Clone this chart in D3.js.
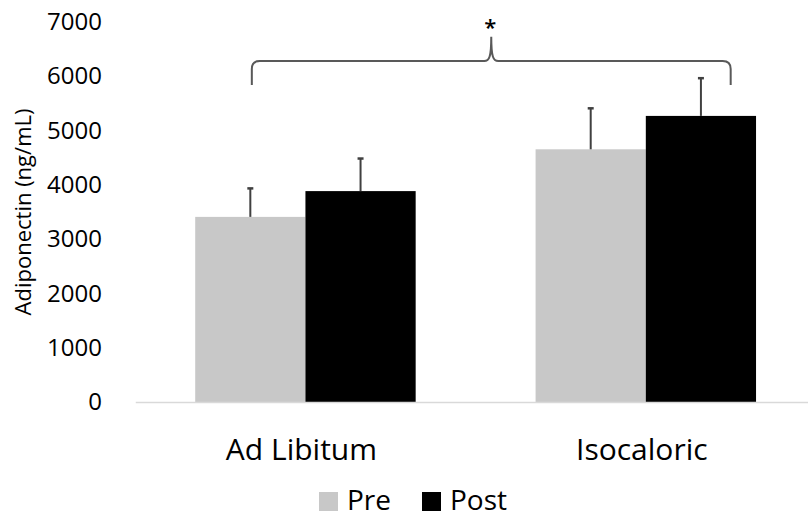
<!DOCTYPE html>
<html>
<head>
<meta charset="utf-8">
<script src="https://cdn.jsdelivr.net/npm/d3@7"></script>
<style>
  html, body { margin: 0; padding: 0; background: #fff; }
  svg { display: block; }
  text { font-family: "Open Sans", sans-serif; fill: #000; }
</style>
</head>
<body>
<svg id="chart" width="808" height="517"></svg>
<script>
// ---- data ----
const categories = ["Ad Libitum", "Isocaloric"];
const seriesNames = ["Pre", "Post"];
const preValues = [3410, 4655];
const postValues = [3885, 5270];
const preErrors = [525, 755];
const postErrors = [600, 695];
const yTicks = [0, 1000, 2000, 3000, 4000, 5000, 6000, 7000];
const yTitle = "Adiponectin (ng/mL)";
const sigLabel = "*";
const bracketLevels = { bottom: 5840, horizontal: 6280, peak: 6730 };

// ---- build table ----
const values = { Pre: preValues, Post: postValues };
const errors = { Pre: preErrors, Post: postErrors };
const colors = { Pre: "#c8c8c8", Post: "#000000" };
const rows = [];
categories.forEach((c, i) => {
  seriesNames.forEach(s => rows.push({ cat: c, series: s, value: values[s][i], err: errors[s][i] }));
});

const svg = d3.select("#chart");

const x0 = d3.scaleBand().domain(categories).range([135.25, 816]).paddingInner(0).paddingOuter(0);
const x1 = d3.scaleBand().domain(seriesNames).range([0, x0.bandwidth()]).paddingInner(0).paddingOuter(0.544);
const y = d3.scaleLinear().domain([0, 7000]).range([402, 22]);

// y axis (labels only)
const yAxis = svg.append("g")
  .attr("transform", "translate(135,0)")
  .call(d3.axisLeft(y).tickValues(yTicks).tickSize(0).tickPadding(33).tickFormat(d3.format("d")));
yAxis.select(".domain").remove();
yAxis.selectAll("text").style("font-size", "24px").style("font-family", "'Open Sans', sans-serif").attr("fill", "#000");

// bars
svg.append("g").selectAll("rect")
  .data(rows)
  .join("rect")
  .attr("x", d => x0(d.cat) + x1(d.series))
  .attr("width", x1.bandwidth())
  .attr("y", d => y(d.value))
  .attr("height", d => y(0) - y(d.value))
  .attr("fill", d => colors[d.series]);

// x axis (baseline + category labels)
const xAxis = svg.append("g")
  .attr("transform", `translate(0,${y(0)})`)
  .call(d3.axisBottom(x0).tickSize(0));
xAxis.select(".domain").attr("stroke", "#d9d9d9").attr("stroke-width", 1.5);
xAxis.selectAll("text")
  .attr("y", 58).attr("dy", 0).attr("dx", -4)
  .style("font-size", "30px").style("font-family", "'Open Sans', sans-serif").attr("fill", "#000");

// error bars
const eb = svg.append("g").selectAll("g")
  .data(rows)
  .join("g");
eb.append("line")
  .attr("x1", d => x0(d.cat) + x1(d.series) + x1.bandwidth() / 2)
  .attr("x2", d => x0(d.cat) + x1(d.series) + x1.bandwidth() / 2)
  .attr("y1", d => y(d.value))
  .attr("y2", d => y(d.value + d.err))
  .attr("stroke", "#404040").attr("stroke-width", 2);
eb.append("line")
  .attr("x1", d => x0(d.cat) + x1(d.series) + x1.bandwidth() / 2 - 3)
  .attr("x2", d => x0(d.cat) + x1(d.series) + x1.bandwidth() / 2 + 3)
  .attr("y1", d => y(d.value + d.err))
  .attr("y2", d => y(d.value + d.err))
  .attr("stroke", "#404040").attr("stroke-width", 2.5);

// significance bracket
const L = x0(categories[0]) + x1("Pre") + x1.bandwidth() / 2 + 1.5;
const R = x0(categories[1]) + x1("Post") + x1.bandwidth() * 0.77;
const M = (L + R) / 2;
const yB = y(bracketLevels.bottom), yH = y(bracketLevels.horizontal), yP = y(bracketLevels.peak);
const r = 8;
const p = d3.path();
p.moveTo(L, yB);
p.lineTo(L, yH + r);
p.quadraticCurveTo(L, yH, L + r, yH);
p.lineTo(M - 7, yH);
p.bezierCurveTo(M - 2, yH, M, yH - 4, M, yP);
p.bezierCurveTo(M, yH - 4, M + 2, yH, M + 7, yH);
p.lineTo(R - r, yH);
p.quadraticCurveTo(R, yH, R, yH + r);
p.lineTo(R, yB);
svg.append("path").attr("d", p.toString()).attr("fill", "none").attr("stroke", "#595959").attr("stroke-width", 2);
svg.append("text").attr("x", M - 1).attr("y", y(7000) + 13).attr("text-anchor", "middle")
  .style("font-size", "22px").style("font-weight", "600").text(sigLabel);

// y title
svg.append("text")
  .attr("transform", "translate(31,212) rotate(-90)")
  .attr("text-anchor", "middle")
  .style("font-size", "22px")
  .text(yTitle);

// legend
const legend = svg.append("g");
const legendItems = [{ name: "Pre", x: 319 }, { name: "Post", x: 422 }];
const lg = legend.selectAll("g").data(legendItems).join("g")
  .attr("transform", d => `translate(${d.x},492)`);
lg.append("rect").attr("width", 19).attr("height", 19).attr("fill", d => colors[d.name]);
lg.append("text").attr("x", 28).attr("y", 18).style("font-size", "28px").text(d => d.name);
</script>
</body>
</html>
